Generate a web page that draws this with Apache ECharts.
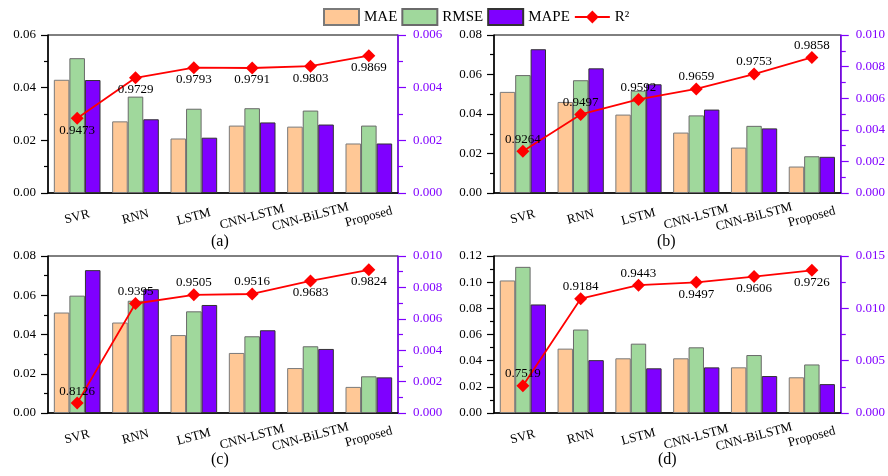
<!DOCTYPE html>
<html><head><meta charset="utf-8">
<script src="https://cdn.jsdelivr.net/npm/echarts@6/dist/echarts.min.js"></script>
<style>html,body{margin:0;padding:0;background:#fff}#c{width:888px;height:476px}</style>
</head><body><div id="c"></div>
<script>
const categories = ['SVR','RNN','LSTM','CNN-LSTM','CNN-BiLSTM','Proposed'];
const seriesNames = ['MAE','RMSE','MAPE','R²'];
const panelLabels = ['(a)','(b)','(c)','(d)'];

const maeA  = [0.0430,0.0272,0.0207,0.0256,0.0252,0.0188];
const rmseA = [0.0512,0.0366,0.0320,0.0322,0.0313,0.0256];
const mapeA = [0.00429,0.00280,0.00210,0.00268,0.00260,0.00188];
const r2A   = [0.9473,0.9729,0.9793,0.9791,0.9803,0.9869];

const maeB  = [0.0512,0.0461,0.0397,0.0306,0.0230,0.0134];
const rmseB = [0.0597,0.0571,0.0518,0.0393,0.0340,0.0186];
const mapeB = [0.00910,0.00789,0.00688,0.00528,0.00409,0.00229];
const r2B   = [0.9264,0.9497,0.9592,0.9659,0.9753,0.9858];

const maeC  = [0.0512,0.0461,0.0397,0.0306,0.0229,0.0133];
const rmseC = [0.0598,0.0572,0.0518,0.0391,0.0340,0.0187];
const mapeC = [0.00910,0.00789,0.00688,0.00527,0.00408,0.00227];
const r2C   = [0.8126,0.9395,0.9505,0.9516,0.9683,0.9824];

const maeD  = [0.1013,0.0492,0.0418,0.0418,0.0349,0.0273];
const rmseD = [0.1117,0.0638,0.0530,0.0502,0.0443,0.0371];
const mapeD = [0.01037,0.00505,0.00427,0.00436,0.00353,0.00276];
const r2D   = [0.7519,0.9184,0.9443,0.9497,0.9606,0.9726];

const FONT = 'Liberation Serif, Times New Roman, serif';
const PURPLE = '#8000FF';

const panels = [
  {mae:maeA, rmse:rmseA, mape:mapeA, r2:r2A, grid:{left:48,top:35,width:350,height:158},
   lMax:0.06, lInt:0.02, rMax:0.006, rInt:0.002, rMinor:2, r2Min:0.9, r2Max:1.0,
   below:[true,true,true,true,true,true], title:{x:222,y:243}},
  {mae:maeB, rmse:rmseB, mape:mapeB, r2:r2B, grid:{left:494,top:35,width:348,height:158},
   lMax:0.08, lInt:0.02, rMax:0.010, rInt:0.002, rMinor:2, r2Min:0.9, r2Max:1.0,
   below:[false,false,false,false,false,false], title:{x:668,y:243}},
  {mae:maeC, rmse:rmseC, mape:mapeC, r2:r2C, grid:{left:48,top:256,width:350,height:157},
   lMax:0.08, lInt:0.02, rMax:0.010, rInt:0.002, rMinor:2, r2Min:0.8, r2Max:1.0,
   below:[false,false,false,false,true,true], title:{x:222,y:461}},
  {mae:maeD, rmse:rmseD, mape:mapeD, r2:r2D, grid:{left:494,top:256,width:349,height:157},
   lMax:0.12, lInt:0.02, rMax:0.015, rInt:0.005, rMinor:2, r2Min:0.7, r2Max:1.0,
   below:[false,false,false,true,true,true], title:{x:669,y:461}}
];

const grid=[], xAxis=[], yAxis=[], series=[], graphic=[];
panels.forEach((p,i)=>{
  grid.push(Object.assign({show:true,borderColor:'#000',borderWidth:1,backgroundColor:'transparent'},p.grid));
  const xi = xAxis.length;
  xAxis.push({type:'category',gridIndex:i,data:categories,position:'bottom',
    axisLine:{lineStyle:{color:'#000',width:1.5}},
    axisTick:{alignWithLabel:true,length:6,lineStyle:{color:'#000',width:1.2}},
    axisLabel:{rotate:15,align:'center',verticalAlign:'middle',margin:24,color:'#000',fontSize:13,fontFamily:FONT,interval:0},
    splitLine:{show:false}});
  xAxis.push({type:'category',gridIndex:i,data:categories,position:'bottom',
    axisLine:{show:false},
    axisTick:{alignWithLabel:false,length:3,lineStyle:{color:'#000',width:1.2}},
    axisLabel:{show:false},splitLine:{show:false}});
  const yi = yAxis.length;
  yAxis.push({type:'value',gridIndex:i,min:0,max:p.lMax,interval:p.lInt,position:'left',
    axisLine:{show:true,lineStyle:{color:'#000',width:1.5}},
    axisTick:{show:true,length:7,lineStyle:{color:'#000',width:1.2}},
    minorTick:{show:true,splitNumber:2,length:4,lineStyle:{color:'#000',width:1.2}},
    axisLabel:{formatter:v=>v.toFixed(2),color:'#000',fontSize:13,fontFamily:FONT,margin:12},
    splitLine:{show:false}});
  yAxis.push({type:'value',gridIndex:i,min:0,max:p.rMax,interval:p.rInt,position:'right',
    axisLine:{show:true,lineStyle:{color:PURPLE,width:1.5}},
    axisTick:{show:true,length:8,lineStyle:{color:PURPLE,width:1.2}},
    minorTick:{show:true,splitNumber:p.rMinor,length:5,lineStyle:{color:PURPLE,width:1.2}},
    axisLabel:{formatter:v=>v.toFixed(3),color:PURPLE,fontSize:13,fontFamily:FONT,margin:15},
    splitLine:{show:false}});
  yAxis.push({type:'value',gridIndex:i,min:p.r2Min,max:p.r2Max,show:false,splitLine:{show:false}});
  const barCommon = {type:'bar',xAxisIndex:xi,barGap:'0%',barCategoryGap:'20%'};
  series.push(Object.assign({name:'MAE',yAxisIndex:yi,data:p.mae,
    itemStyle:{color:'#FFC896',borderColor:'#7a7a7a',borderWidth:1}},barCommon));
  series.push(Object.assign({name:'RMSE',yAxisIndex:yi,data:p.rmse,
    itemStyle:{color:'#A0D89C',borderColor:'#6a6a6a',borderWidth:1}},barCommon));
  series.push(Object.assign({name:'MAPE',yAxisIndex:yi+1,data:p.mape,
    itemStyle:{color:'#7F00FF',borderColor:'#333',borderWidth:1}},barCommon));
  series.push({name:'R²',type:'line',xAxisIndex:xi,yAxisIndex:yi+2,z:10,
    symbol:'diamond',symbolSize:13,
    lineStyle:{color:'#FF0000',width:1.8},itemStyle:{color:'#FF0000'},
    data:p.r2.map((v,k)=>({value:v,label:{show:true,position:'inside',offset:[0,p.below[k]?12:-12],
      formatter:v.toFixed(4),color:'#000',fontSize:13,fontFamily:FONT}})),
    animation:false});
  graphic.push({type:'text',left:p.title.x-11,top:p.title.y-9,
    style:{text:panelLabels[i],font:'16px '+FONT,fill:'#000'}});
});

const chart = echarts.init(document.getElementById('c'),null,{renderer:'canvas'});
chart.setOption({
  animation:false,
  legend:{data:[{name:'MAE',icon:'rect'},{name:'RMSE',icon:'rect'},{name:'MAPE',icon:'rect'},{name:'R²'}],
    left:323,top:8,padding:0,itemWidth:35,itemHeight:16,itemGap:4,
    textStyle:{fontSize:15,fontFamily:FONT,color:'#000'}},
  grid, xAxis, yAxis, series, graphic
});
</script></body></html>
